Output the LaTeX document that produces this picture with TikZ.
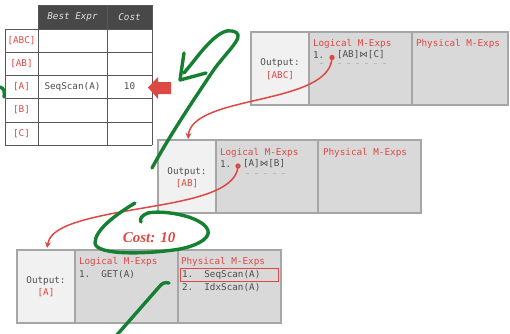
\documentclass[tikz,border=0pt]{standalone}
\usepackage{fontspec}
\setmainfont{Liberation Serif}
\newfontfamily\monof{DejaVu Sans Mono}
\newfontfamily\symf{DejaVu Sans}
\usetikzlibrary{arrows.meta}

\definecolor{memored}{RGB}{222,72,68}
\definecolor{memogray}{RGB}{78,78,78}
\definecolor{groupfill}{RGB}{217,217,217}
\definecolor{outfill}{RGB}{241,241,241}
\definecolor{groupline}{RGB}{166,166,166}
\definecolor{tabline}{RGB}{88,88,88}
\definecolor{headfill}{RGB}{72,72,72}
\definecolor{headtext}{RGB}{222,222,222}
\definecolor{inkgreen}{RGB}{22,128,50}
\definecolor{faint}{RGB}{185,185,185}

\newcommand{\bowtiechar}{{\symf\fontsize{8.5}{10}\selectfont ⋈}}

\tikzset{
  mono/.style={font=\monof\fontsize{9.3}{11}\selectfont, inner sep=0pt, outer sep=0pt},
  lbl/.style={mono, text=memored},
  txt/.style={mono, text=memogray},
  hdr/.style={mono, text=headtext, font=\monof\itshape\fontsize{9.3}{11}\selectfont},
  cell/.style={draw=groupline, line width=1.2pt, anchor=north west, inner sep=0pt, outer sep=0pt},
  outcell/.style={cell, fill=outfill},
  mexcell/.style={cell, fill=groupfill},
  tab/.style={draw=tabline, line width=1pt},
  link/.style={draw=memored, line width=1.5pt, -{Stealth[length=6pt,width=6pt]}},
  inkline/.style={draw=inkgreen, line width=3.4pt, line cap=round, line join=round},
  ghost/.style={draw=faint, line width=0.8pt, dash pattern=on 3pt off 6pt},
}

\begin{document}
\begin{tikzpicture}[x=1pt,y=-1pt]
\useasboundingbox (0,0) rectangle (510,333);

% ---------- memo table ----------
\fill[headfill] (38,5) rectangle (152,29);
\foreach \yy in {29,52,75,98,122,145} \draw[tab] (5,\yy) -- (152,\yy);
\draw[tab] (5,29) -- (5,145);
\draw[tab] (38,5) -- (38,145);
\draw[tab] (107,5) -- (107,145);
\draw[tab] (152,5) -- (152,145);
\draw[tab] (38,5) -- (152,5);

\node[hdr] (hbest) at (72.5,17) {Best Expr};
\node[hdr] (hcost) at (129.5,17) {Cost};
\node[lbl] (rabc) at (21.5,40.5) {[ABC]};
\node[lbl] (rab)  at (21.5,63.5) {[AB]};
\node[lbl] (ra)   at (21.5,86.5) {[A]};
\node[lbl] (rb)   at (21.5,110) {[B]};
\node[lbl] (rc)   at (21.5,133.5) {[C]};
\node[txt] (bestA) at (72.5,86.5) {SeqScan(A)};
\node[txt] (costA) at (129.5,86.5) {10};

% pointer at the [A] row
\fill[memored] (148,87.5) -- (158,77) -- (158,82) -- (171,82) -- (171,94) -- (158,94) -- (158,99) -- cycle;

% ---------- group [ABC] ----------
\node[outcell, minimum width=58pt, minimum height=73pt] (abcout) at (251,32) {};
\node[mexcell, minimum width=103pt, minimum height=73pt] (abclog) at (309,32) {};
\node[mexcell, minimum width=96pt, minimum height=73pt] (abcphy) at (412,32) {};
\node[txt] (abcouttxt) at (280,63) {Output:};
\node[lbl] (abcoutlbl) at (280,75.5) {[ABC]};
\node[lbl, anchor=west] (abcloghd) at (313,44) {Logical M-Exps};
\node[txt, anchor=west] (abcnum) at (313,55) {1.};
\node[txt, anchor=west] (abcexpr) at (337,55) {[AB]\bowtiechar[C]};
\node[lbl, anchor=west] (abcphyhd) at (416,44) {Physical M-Exps};
\draw[ghost] (320,63) -- (388,63);
\fill[memored] (332,57.5) circle (2.7pt);
\coordinate (abcdot) at (332,57.5);

% ---------- group [AB] ----------
\node[outcell, minimum width=58pt, minimum height=73pt] (about) at (158,140) {};
\node[mexcell, minimum width=102pt, minimum height=73pt] (ablog) at (216,140) {};
\node[mexcell, minimum width=103pt, minimum height=73pt] (abphy) at (318,140) {};
\node[txt] (abouttxt) at (187,172) {Output:};
\node[lbl] (aboutlbl) at (187,184) {[AB]};
\node[lbl, anchor=west] (abloghd) at (220,153) {Logical M-Exps};
\node[txt, anchor=west] (abnum) at (220,164) {1.};
\node[txt, anchor=west] (abexpr) at (243,164) {[A]\bowtiechar[B]};
\node[lbl, anchor=west] (abphyhd) at (323,153) {Physical M-Exps};
\draw[ghost] (246,173) -- (290,173);
\fill[memored] (238,166) circle (2.7pt);
\coordinate (abdot) at (238,166);

% ---------- group [A] ----------
\node[outcell, minimum width=58pt, minimum height=73pt] (aout) at (17,250) {};
\node[mexcell, minimum width=103pt, minimum height=73pt] (alog) at (75,250) {};
\node[mexcell, minimum width=103pt, minimum height=73pt] (aphy) at (178,250) {};
\node[txt] (aouttxt) at (46,281) {Output:};
\node[lbl] (aoutlbl) at (46,293) {[A]};
\node[lbl, anchor=west] (aloghd) at (79,262) {Logical M-Exps};
\node[txt, anchor=west] (alog1) at (79,275) {1.\hphantom{00}GET(A)};
\node[lbl, anchor=west] (aphyhd) at (181,262) {Physical M-Exps};
\node[txt, anchor=west] (aphy1) at (182,274.5) {1.\hphantom{00}SeqScan(A)};
\node[txt, anchor=west] (aphy2) at (182,288) {2.\hphantom{00}IdxScan(A)};
\node[draw=memored, line width=1.2pt, anchor=north west, minimum width=98pt, minimum height=13pt, inner sep=0pt] (bestbox) at (180,268) {};

% ---------- links between groups ----------
\coordinate (abtop) at (188,139);
\coordinate (atop) at (47,248);
\draw[link] (abcdot) .. controls (330,106) and (192,94) .. (abtop);
\draw[link] (abdot) .. controls (236,198) and (165,203) .. (110,214)
                    .. controls (70,222) and (50,230) .. (atop);

% ---------- cost annotation ----------
\node[text=memored, inner sep=0pt, font=\fontsize{15}{15}\selectfont\bfseries\itshape] (cost) at (149,238) {Cost: 10};

% ---------- hand-drawn ink ----------
\draw[inkline] (152,168) .. controls (170,135) and (196,96) .. (215,68)
               .. controls (232,46) and (247,34) .. (232,31)
               .. controls (220,28) and (204,48) .. (193,62)
               .. controls (189,67) .. (184,73);
\draw[inkline] (184,53) -- (180,80) -- (206,73);
\draw[inkline] (135,203) .. controls (115,215) and (95,230) .. (95,243)
               .. controls (96,256) and (150,254) .. (180,249)
               .. controls (200,245) and (214,236) .. (206,227)
               .. controls (196,215) and (162,210) .. (148,213)
               .. controls (142,215) and (139,219) .. (141,222);
\draw[inkline] (169,283) .. controls (165,282) and (162,283) .. (159,287) -- (116,336);
\draw[inkline] (0,87) .. controls (4,88) and (5,92) .. (4,97);
\end{tikzpicture}
\end{document}
